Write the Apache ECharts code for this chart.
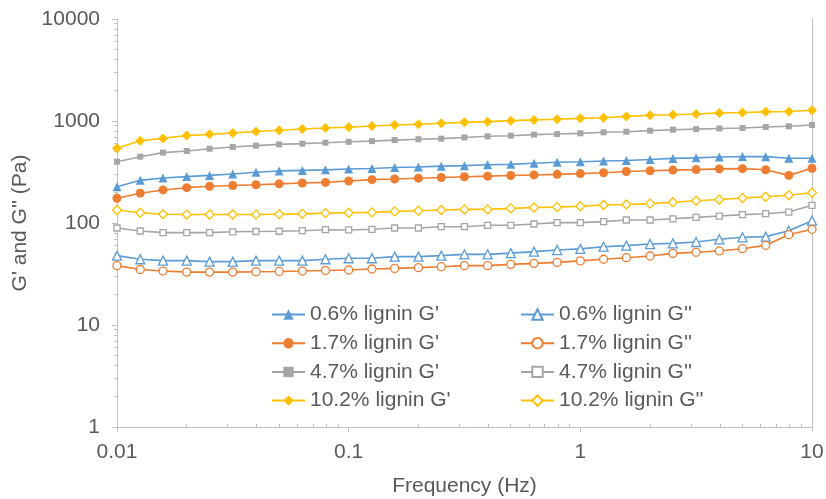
<!DOCTYPE html>
<html>
<head>
<meta charset="utf-8">
<script src="https://cdn.jsdelivr.net/npm/echarts@6/dist/echarts.min.js"></script>
<style>html,body{margin:0;padding:0;background:#fff}#c{width:826px;height:499px}</style>
</head>
<body>
<div id="c"></div>
<script>
// Frequency (Hz)
const freq = [0.01,0.0126,0.0158,0.02,0.0251,0.0316,0.0398,0.0501,0.0631,0.0794,
  0.1,0.126,0.158,0.2,0.251,0.316,0.398,0.501,0.631,0.794,
  1,1.26,1.58,2,2.51,3.16,3.98,5.01,6.31,7.94,10];
const g06p  = [227,262,276,285,293,302,314,324,328,332, 338,342,350,354,361,365,372,376,385,394,399, 406,410,420,430,435,444,448,447,432,432];
const g06pp = [47.9,44.1,42.8,42.8,41.8,41.8,42.8,42.8,42.8,44.1, 45.1,45.1,46.8,46.8,47.9,49.3,49.3,50.7,52.4,54.3,55.8, 58.6,60.0,62.2,63.2,65.1,69.2,72.4,73.5,84.1,105.4];
const g17p  = [175,196,211,222,229,233,237,242,247,250, 258,266,270,275,279,284,288,292,296,300,305, 311,320,325,330,334,339,341,333,293,344];
const g17pp = [38.2,35.0,33.8,33.0,33.0,33.0,33.3,33.5,33.8,34.2, 34.6,35.4,35.9,36.5,37.3,38.2,38.2,39.3,40.2,41.1,42.5, 44.1,45.7,47.5,50.4,51.6,53.2,56.0,60.4,76.8,86.7];
const g47p  = [399,447,490,508,535,556,573,590,600,613, 625,635,650,662,672,690,708,718,735,745,757, 775,785,804,822,833,845,855,873,887,914];
const g47pp = [89.3,83.5,80.4,80.4,80.4,82,82.5,83,84,86, 85.5,86.7,89.3,89.3,92.0,92.0,94.9,94.9,97.8,100.8,100.8, 103.1,107,107,110,113.6,117,120.7,123.4,128,149];
const g102p = [540,641,675,720,740,763,790,812,835,855, 867,893,915,930,949,970,985,1008,1025,1040,1062, 1075,1110,1140,1150,1172,1200,1210,1230,1240,1273];
const g102pp= [134,126,122,121,121,121,121,122,123,125, 126,127,130,132,134,136,136,139,142,143,146, 150,152,155,160,165,170,176,181,187,198];

const names = ["0.6% lignin G'","0.6% lignin G''","1.7% lignin G'","1.7% lignin G''",
               "4.7% lignin G'","4.7% lignin G''","10.2% lignin G'","10.2% lignin G''"];

const FONT = 'Liberation Sans, Arial, sans-serif';
const TXT = '#595959';
const AX = '#BFBFBF';
const BLUE = '#5B9BD5', ORANGE = '#ED7D31', GRAY = '#A5A5A5', GOLD = '#FFC000';

function pairs(ys){ return freq.map((f,i)=>[f, ys[i]]); }
function filled(name, ys, color, symbol, size){
  return {name, type:'line', data:pairs(ys), symbol, symbolSize:size,
    lineStyle:{color, width:1.6}, itemStyle:{color, borderColor:color, borderWidth:0},
    xAxisIndex:0, yAxisIndex:0, z:3};
}
function open(name, ys, color, symbol, size){
  return {name, type:'line', data:pairs(ys), symbol, symbolSize:size,
    lineStyle:{color, width:1.6}, itemStyle:{color:'#ffffff', borderColor:color, borderWidth:1.3},
    xAxisIndex:0, yAxisIndex:0, z:3};
}

const xMinor = [], yMinor = [];
for (let n=-2;n<1;n++) for (let k=2;k<=9;k++) xMinor.push(n+Math.log10(k));
for (let n=0;n<4;n++) for (let k=2;k<=9;k++) yMinor.push(n+Math.log10(k));

const tickStyle = {color:AX, width:1};
const chart = echarts.init(document.getElementById('c'), null, {renderer:'canvas'});
chart.setOption({
  animation:false,
  textStyle:{fontFamily:FONT},
  grid:[
    {left:117,right:14,top:19,bottom:72,outerBoundsMode:'none',containLabel:false},
    {left:117,right:14,top:19,bottom:72,outerBoundsMode:'none',containLabel:false}
  ],
  xAxis:[
    {type:'log', logBase:10, min:0.01, max:10, gridIndex:0,
     name:'Frequency (Hz)', nameLocation:'middle', nameGap:49,
     nameTextStyle:{color:TXT, fontSize:21, fontFamily:FONT},
     axisLine:{onZero:false, lineStyle:{color:AX, width:1}},
     axisTick:{length:5, lineStyle:tickStyle},
     axisLabel:{margin:15, color:TXT, fontSize:21, fontFamily:FONT,
       formatter:v=>String(+v.toPrecision(3))},
     splitLine:{show:false}, minorTick:{show:false}},
    {type:'value', gridIndex:1, min:-2, max:1, position:'bottom',
     axisLine:{show:false, onZero:false}, axisLabel:{show:false}, splitLine:{show:false},
     axisTick:{show:true, inside:true, length:3, lineStyle:tickStyle, customValues:xMinor}}
  ],
  yAxis:[
    {type:'log', logBase:10, min:1, max:10000, gridIndex:0,
     name:"G' and G'' (Pa)", nameLocation:'middle', nameGap:77,
     nameTextStyle:{color:TXT, fontSize:21, fontFamily:FONT},
     axisLine:{show:true, onZero:false, lineStyle:{color:AX, width:1}},
     axisTick:{show:true, length:5, lineStyle:tickStyle},
     axisLabel:{margin:17, color:TXT, fontSize:21, fontFamily:FONT,
       formatter:v=>String(Math.round(v))},
     splitLine:{show:false}, minorTick:{show:false}},
    {type:'value', gridIndex:1, min:0, max:4, position:'left',
     axisLine:{show:false, onZero:false}, axisLabel:{show:false}, splitLine:{show:false},
     axisTick:{show:true, inside:false, length:3, lineStyle:tickStyle, customValues:yMinor}},
    {type:'value', gridIndex:0, min:0, max:1, position:'right',
     axisLine:{show:true, onZero:false, lineStyle:{color:AX, width:1}},
     axisTick:{show:false}, axisLabel:{show:false}, splitLine:{show:false}}
  ],
  legend:[
    {data:[names[0],names[2],names[4],names[6]], orient:'vertical', left:271, top:304, padding:0,
     itemWidth:33, itemHeight:13, itemGap:7.7, selectedMode:false,
     textStyle:{color:TXT, fontSize:21, fontFamily:FONT}},
    {data:[names[1],names[3],names[5],names[7]], orient:'vertical', left:520, top:304, padding:0,
     itemWidth:33, itemHeight:13, itemGap:7.7, selectedMode:false,
     textStyle:{color:TXT, fontSize:21, fontFamily:FONT}}
  ],
  series:[
    filled(names[0], g06p, BLUE, 'triangle', 9),
    open(names[1], g06pp, BLUE, 'triangle', 9),
    filled(names[2], g17p, ORANGE, 'circle', 9),
    open(names[3], g17pp, ORANGE, 'circle', 8),
    filled(names[4], g47p, GRAY, 'rect', 6),
    open(names[5], g47pp, GRAY, 'rect', 6),
    filled(names[6], g102p, GOLD, 'diamond', 10),
    open(names[7], g102pp, GOLD, 'diamond', 9)
  ]
});
</script>
</body>
</html>
